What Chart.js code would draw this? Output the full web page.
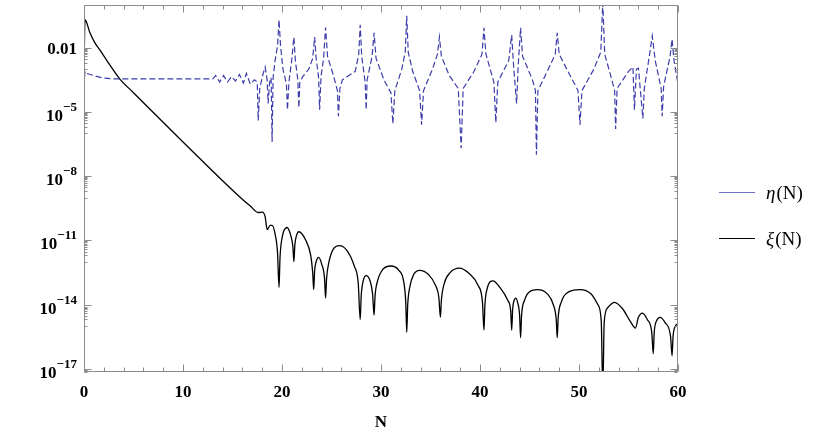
<!DOCTYPE html>
<html>
<head>
<meta charset="utf-8">
<script src="https://cdn.jsdelivr.net/npm/chart.js@4.4.1/dist/chart.umd.min.js"></script>
<style>
  body { margin: 0; background: #fff; }
  #wrap { width: 830px; height: 438px; }
</style>
</head>
<body>
<div id="wrap"><canvas id="chart" width="830" height="438"></canvas></div>
<script>
// ---- data (N, log10 of value) ----
const xiN = [0, 0.1, 0.6, 1.1, 1.6, 2.6, 3.6, 5.0, 10.0, 15.8, 16.8, 17.6, 18.0, 18.3, 18.5, 18.8, 19.0, 19.3, 19.55,
  19.7, 19.8, 20.0, 20.5, 20.9, 21.1, 21.2, 21.3, 21.45, 21.7, 22.4, 22.9, 23.1, 23.2, 23.3, 23.45, 23.7, 24.0, 24.3,
  24.4, 24.5, 24.75, 25.2, 25.8, 26.6, 27.3, 27.7, 27.9, 28.0, 28.2, 28.5, 28.9, 29.15, 29.3, 29.4, 29.65, 30.2, 31.0,
  31.8, 32.3, 32.5, 32.6, 32.7, 32.9, 33.3, 33.9, 34.8, 35.5, 35.85, 36.0, 36.1, 36.4, 37.0, 37.9, 38.9, 39.8, 40.25,
  40.4, 40.5, 40.7, 41.3, 42.0, 42.8, 43.1, 43.2, 43.3, 43.45, 43.6, 43.8, 44.0, 44.1, 44.2, 44.5, 45.0, 45.8, 46.8,
  47.4, 47.7, 47.8, 47.9, 48.2, 49.0, 50.1, 51.2, 51.9, 52.25, 52.4, 52.55, 52.9, 53.6, 54.4, 55.2, 55.7, 56.0, 56.4,
  56.9, 57.35, 57.5, 57.6, 57.85, 58.2, 58.7, 59.25, 59.4, 59.5, 59.75, 60.0];
const xiLog = [-3.1, -0.69, -1.3, -1.77, -2.1, -2.8, -3.45, -4.1, -6.4, -9.0, -9.4, -9.7, -9.68, -9.9, -10.5, -10.3, -10.3, -10.7, -11.6,
  -13.2, -11.8, -10.9, -10.4, -10.8, -11.3, -12.0, -11.2, -10.8, -10.6, -11.0, -11.7, -12.5, -13.3, -12.4, -12.0, -11.8, -12.1, -12.8,
  -13.7, -12.8, -12.0, -11.4, -11.25, -11.5, -12.2, -13.0, -14.7, -13.6, -12.9, -12.65, -12.9, -13.5, -14.5, -13.6, -12.9, -12.35, -12.2,
  -12.4, -12.95, -13.9, -15.3, -14.0, -13.2, -12.6, -12.4, -12.6, -13.1, -13.7, -14.6, -13.8, -13.0, -12.5, -12.3, -12.55, -13.1, -13.9,
  -15.2, -14.0, -13.3, -12.9, -13.2, -13.8, -14.3, -15.2, -14.2, -13.8, -13.7, -13.9, -14.5, -15.55, -14.5, -13.8, -13.4, -13.3, -13.5,
  -14.0, -14.7, -15.55, -14.6, -13.9, -13.4, -13.3, -13.5, -14.0, -14.8, -18.0, -14.8, -14.15, -13.9, -14.2, -14.8, -15.1, -14.6, -14.4,
  -14.7, -15.3, -16.3, -15.3, -14.75, -14.6, -14.85, -15.5, -16.4, -15.5, -15.0, -14.9];

const etaN = [0, 0.1, 0.3, 1.0, 2.0, 3.0, 13.0, 13.3, 13.7, 14.1, 14.5, 14.9, 15.3, 15.7, 16.1, 16.4, 16.8, 17.2, 17.5,
  17.6, 17.75, 18.1, 18.3, 18.5, 18.6, 18.75, 18.9, 19.0, 19.1, 19.3, 19.55, 19.7, 19.85, 20.1, 20.45, 20.55, 20.7, 21.0,
  21.2, 21.35, 21.6, 21.7, 21.8, 22.1, 22.7, 23.1, 23.3, 23.45, 23.7, 23.8, 23.95, 24.2, 24.4, 24.6, 25.2, 25.6, 25.7,
  25.85, 26.1, 27.4, 27.75, 27.9, 28.05, 28.4, 28.5, 28.6, 29.1, 29.3, 29.5, 30.3, 31.0, 31.2, 31.4, 32.1, 32.45, 32.6,
  32.75, 33.2, 33.9, 34.1, 34.3, 35.2, 35.7, 35.9, 36.1, 36.9, 37.8, 38.1, 38.3, 39.4, 40.2, 40.4, 40.6, 41.4, 41.6, 41.8,
  42.9, 43.2, 43.4, 43.7, 43.85, 44.1, 44.3, 45.3, 45.6, 45.7, 45.85, 46.9, 47.6, 47.8, 48.0, 49.1, 49.9, 50.1, 50.3,
  51.5, 52.2, 52.4, 52.6, 53.2, 53.6, 53.7, 53.85, 55.0, 55.45, 55.6, 55.8, 56.0, 56.45, 56.6, 57.1, 57.4, 57.7, 58.3,
  58.4, 58.55, 59.2, 59.4, 59.6, 60.0];
const etaLog = [-3.8, -3.1, -3.2, -3.3, -3.42, -3.45, -3.45, -3.3, -3.6, -3.3, -3.6, -3.35, -3.55, -3.25, -3.65, -3.2, -3.7, -3.5, -3.6,
  -5.4, -3.9, -3.2, -2.9, -3.5, -4.6, -3.6, -3.4, -6.4, -3.4, -2.6, -1.9, -0.69, -1.9, -3.0, -3.7, -4.9, -3.6, -2.5,
  -1.5, -2.6, -3.5, -4.8, -3.6, -3.35, -3.0, -2.5, -1.5, -2.5, -3.4, -4.9, -3.3, -2.5, -1.05, -2.4, -3.3, -4.0, -5.2,
  -3.9, -3.5, -3.1, -2.3, -0.93, -2.4, -3.6, -4.9, -3.5, -2.4, -1.3, -2.5, -3.5, -4.1, -5.55, -4.0, -3.0, -2.2, -0.5,
  -2.2, -3.1, -4.0, -5.6, -4.0, -3.0, -2.3, -1.5, -2.4, -3.3, -3.9, -6.7, -3.9, -3.1, -2.3, -1.07, -2.3, -3.6, -5.5, -3.6,
  -2.6, -1.4, -2.9, -4.6, -2.9, -1.07, -2.4, -3.5, -4.0, -7.0, -4.0, -3.0, -2.3, -1.3, -2.3, -3.3, -4.0, -5.6, -4.0,
  -3.0, -2.2, 0.1, -2.3, -3.3, -4.0, -5.8, -3.9, -3.1, -2.9, -4.9, -3.0, -2.95, -5.3, -3.9, -2.4, -1.45, -2.6, -3.9,
  -5.2, -3.8, -2.4, -1.6, -2.6, -3.7];

const xTicks = [0, 10, 20, 30, 40, 50, 60];
const yMajorExp = [-2, -5, -8, -11, -14, -17];
const yLabels = ['0.01', '10|−5', '10|−8', '10|−11', '10|−14', '10|−17'];
const seriesNames = ['η', 'ξ'];

const SERIF = '"Liberation Serif", "DejaVu Serif", serif';

// frame, inward ticks, y labels with superscripts and the legend
const framePlugin = {
  id: 'framePlugin',
  afterDraw(chart) {
    const { ctx, chartArea: a, scales } = chart;
    const x = scales.x, y = scales.y;
    const L = Math.round(a.left) + 0.5, R = Math.round(a.right) - 0.5;
    const T = Math.round(a.top) + 0.5, B = Math.round(a.bottom) - 0.5;
    ctx.save();
    ctx.strokeStyle = '#8c8c8c';
    ctx.lineWidth = 1;
    ctx.strokeRect(L, T, R - L, B - T);

    ctx.beginPath();
    for (let v = 0; v <= 60; v += 2) {
      const px = Math.round(x.getPixelForValue(v)) + 0.5;
      const len = v % 10 === 0 ? 7 : 4;
      ctx.moveTo(px, B); ctx.lineTo(px, B - len);
      ctx.moveTo(px, T); ctx.lineTo(px, T + len);
    }
    yMajorExp.forEach(e => {
      const py = Math.round(y.getPixelForValue(Math.pow(10, e))) + 0.5;
      ctx.moveTo(L, py); ctx.lineTo(L + 7, py);
      ctx.moveTo(R, py); ctx.lineTo(R - 7, py);
      for (let m = 1; m <= 9; m++) {
        const val = m * Math.pow(10, e - 1);
        if (val < y.min) continue;
        const q = Math.round(y.getPixelForValue(val)) + 0.5;
        ctx.moveTo(L, q); ctx.lineTo(L + 3, q);
        ctx.moveTo(R, q); ctx.lineTo(R - 3, q);
      }
    });
    ctx.stroke();

    // y tick labels
    ctx.fillStyle = '#000';
    ctx.textAlign = 'right';
    ctx.textBaseline = 'alphabetic';
    const right = a.left - 7;
    yMajorExp.forEach((e, i) => {
      const py = y.getPixelForValue(Math.pow(10, e));
      const parts = yLabels[i].split('|');
      if (parts.length === 1) {
        ctx.font = 'bold 17px ' + SERIF;
        ctx.fillText(parts[0], right, py + 6);
      } else {
        ctx.font = 'bold 13px ' + SERIF;
        const w = ctx.measureText(parts[1]).width;
        ctx.fillText(parts[1], right, py - 1);
        ctx.font = 'bold 17px ' + SERIF;
        ctx.fillText(parts[0], right - w, py + 9);
      }
    });

    // legend
    const items = [
      { name: seriesNames[0], color: '#7070c8', y: 192 },
      { name: seriesNames[1], color: '#000', y: 238 }
    ];
    ctx.textAlign = 'left';
    items.forEach(it => {
      ctx.strokeStyle = it.color;
      ctx.lineWidth = 1;
      ctx.beginPath();
      ctx.moveTo(719, it.y + 0.5); ctx.lineTo(755, it.y + 0.5);
      ctx.stroke();
      ctx.fillStyle = '#000';
      ctx.font = 'italic 19px ' + SERIF;
      ctx.fillText(it.name, 766, it.y + 7);
      const w = ctx.measureText(it.name).width;
      ctx.font = '19px ' + SERIF;
      ctx.fillText('(N)', 766 + w + 1, it.y + 7);
    });
    ctx.restore();
  }
};

const toPoints = (ns, logs) => ns.map((n, i) => ({ x: n, y: Math.pow(10, logs[i]) }));

new Chart(document.getElementById('chart'), {
  type: 'line',
  data: {
    datasets: [
      {
        label: 'η(N)',
        data: toPoints(etaN, etaLog),
        borderColor: '#3c3caa',
        borderWidth: 1.2,
        borderDash: [6, 3],
        pointRadius: 0,
        tension: 0
      },
      {
        label: 'ξ(N)',
        data: toPoints(xiN, xiLog),
        borderColor: '#000',
        borderWidth: 1.3,
        pointRadius: 0,
        cubicInterpolationMode: 'monotone'
      }
    ]
  },
  options: {
    responsive: false,
    animation: false,
    layout: { padding: { left: 0, right: 152, top: 5, bottom: 0 } },
    plugins: { legend: { display: false }, tooltip: { enabled: false } },
    scales: {
      x: {
        type: 'linear',
        min: 0,
        max: 60,
        afterBuildTicks: s => { s.ticks = xTicks.map(v => ({ value: v })); },
        afterFit: s => { s.height = 66; },
        grid: { display: false, drawTicks: false },
        border: { display: false },
        ticks: {
          color: '#000',
          padding: 10,
          maxRotation: 0,
          font: { family: SERIF, size: 17, weight: 'bold' }
        },
        title: {
          display: true,
          text: 'N',
          color: '#000',
          padding: { top: 0, bottom: 5 },
          font: { family: SERIF, size: 17, weight: 'bold' }
        }
      },
      y: {
        type: 'logarithmic',
        min: 7.4e-18,
        max: 1,
        afterFit: s => { s.width = 84; },
        grid: { display: false, drawTicks: false },
        border: { display: false },
        ticks: { display: false }
      }
    }
  },
  plugins: [framePlugin]
});
</script>
</body>
</html>
